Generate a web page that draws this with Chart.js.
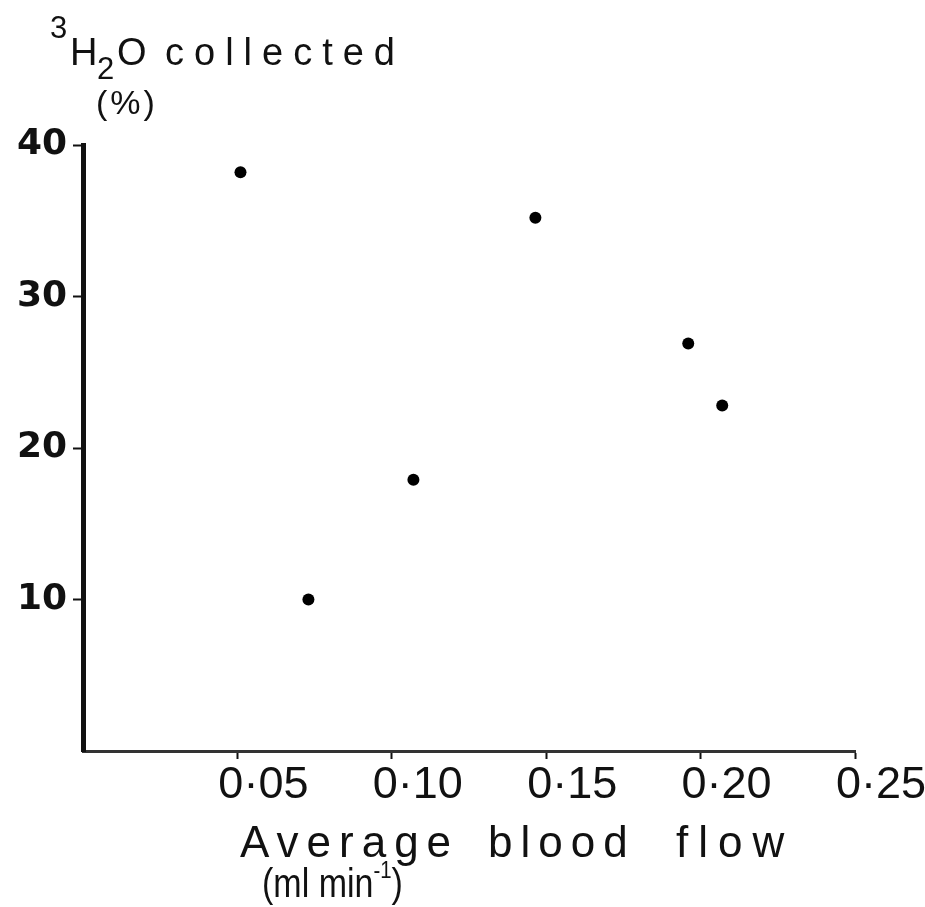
<!DOCTYPE html>
<html>
<head>
<meta charset="utf-8">
<script src="https://cdn.jsdelivr.net/npm/chart.js@4/dist/chart.umd.min.js"></script>
<style>
  body { margin: 0; background: #fff; }
  canvas { display: block; }
</style>
</head>
<body>
<canvas id="flow-chart" width="925" height="907"></canvas>
<script>
// values
const flowValues = [0.051, 0.073, 0.107, 0.1465, 0.196, 0.207];
const collectedValues = [38.2, 10.0, 17.9, 35.2, 26.9, 22.8];
const xTicks = [0, 0.05, 0.1, 0.15, 0.2, 0.25];
const yTicks = [0, 10, 20, 30, 40];

const ink = "#111";
const points = flowValues.map((x, i) => ({ x: x, y: collectedValues[i] }));

// AXIS TITLES (super/subscripts, so drawn by hand)
const axisTitles = {
  id: "axisTitles",
  afterDraw(chart) {
    const { ctx } = chart;
    ctx.save();
    ctx.fillStyle = ink;
    ctx.textAlign = "left";
    ctx.textBaseline = "alphabetic";

    ctx.font = '31px "Liberation Sans"';
    ctx.fillText("3", 50, 38);
    ctx.font = '38px "Liberation Sans"';
    ctx.fillText("H", 70, 65);
    ctx.fillText("O", 117, 65);
    ctx.font = '31px "Liberation Sans"';
    ctx.fillText("2", 97, 79);
    ctx.font = '38px "Liberation Sans"';
    ctx.letterSpacing = "10px";
    ctx.fillText("collected", 165, 65);
    ctx.letterSpacing = "3px";
    ctx.font = '34px "Liberation Sans"';
    ctx.fillText("(%)", 96, 114);

    ctx.letterSpacing = "8px";
    ctx.font = '44px "Liberation Sans"';
    ctx.fillText("Average", 240, 857);
    ctx.fillText("blood", 488, 857);
    ctx.letterSpacing = "10px";
    ctx.fillText("flow", 676, 857);

    // units line is a bit condensed in the original
    ctx.letterSpacing = "0px";
    ctx.translate(262, 897);
    ctx.scale(0.85, 1);
    ctx.font = '40px "Liberation Sans"';
    let x = 0;
    ctx.fillText("(ml min", x, 0);
    x += ctx.measureText("(ml min").width;
    ctx.font = '24px "Liberation Sans"';
    ctx.fillText("-1", x, -19);
    x += ctx.measureText("-1").width;
    ctx.font = '40px "Liberation Sans"';
    ctx.fillText(")", x, 0);
    ctx.restore();
  },
};

const hideZeroTick = (c) => (c.tick && c.tick.value === 0 ? "rgba(0,0,0,0)" : ink);

const config = {
  type: "scatter",
  data: {
    datasets: [
      {
        data: points,
        backgroundColor: "#000",
        borderWidth: 0,
        pointRadius: 6,
      },
    ],
  },
  options: {
    responsive: false,
    devicePixelRatio: 1,
    animation: false,
    layout: {
      padding: { left: 0, top: 145, right: 70, bottom: 0 },
    },
    plugins: {
      legend: { display: false },
      tooltip: { enabled: false },
    },
    scales: {
      x: {
        type: "linear",
        position: "bottom",
        min: xTicks[0],
        max: xTicks[xTicks.length - 1],
        afterBuildTicks(scale) {
          scale.ticks = xTicks.map((v) => ({ value: v }));
        },
        afterFit(scale) {
          scale.height = 156;
        },
        ticks: {
          autoSkip: false,
          maxRotation: 0,
          labelOffset: 26,
          padding: 0,
          color: ink,
          font: { family: "Liberation Sans", size: 45 },
          callback: (v) => (v === 0 ? "" : "0·" + String(Math.round(v * 100)).padStart(2, "0")),
        },
        grid: {
          drawOnChartArea: false,
          drawTicks: true,
          tickLength: 8,
          tickWidth: 2,
          tickColor: hideZeroTick,
        },
        border: { display: true, width: 3, color: "#333" },
      },
      y: {
        type: "linear",
        min: yTicks[0],
        max: yTicks[yTicks.length - 1],
        afterBuildTicks(scale) {
          scale.ticks = yTicks.map((v) => ({ value: v }));
        },
        afterFit(scale) {
          scale.width = 83;
        },
        ticks: {
          padding: 6,
          color: ink,
          font: { family: "DejaVu Sans", size: 36, weight: "bold" },
          callback: (v) => (v === 0 ? "" : String(v)),
        },
        grid: {
          drawOnChartArea: false,
          drawTicks: true,
          tickLength: 10,
          tickWidth: 2,
          tickColor: hideZeroTick,
        },
        border: { display: true, width: 5, color: ink },
      },
    },
  },
  plugins: [axisTitles],
};

new Chart(document.getElementById("flow-chart"), config);
</script>
</body>
</html>
